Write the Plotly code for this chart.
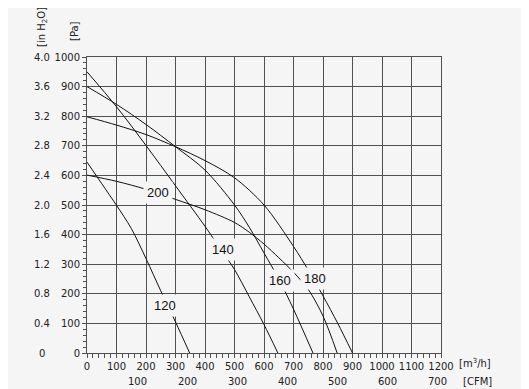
import plotly.graph_objects as go

# ---- data ----
flow_120 = [0, 50, 100, 150, 200, 250, 300, 348]
pres_120 = [645, 572, 499, 421, 319, 210, 105, 0]

flow_140 = [0, 100, 200, 300, 400, 450, 500, 550, 600, 647]
pres_140 = [950, 832, 701, 565, 428, 355, 282, 190, 96, 0]

flow_160 = [0, 100, 200, 300, 400, 500, 550, 600, 650, 700, 766]
pres_160 = [900, 840, 772, 697, 618, 500, 425, 338, 250, 148, 0]

flow_180 = [0, 100, 200, 300, 400, 500, 600, 700, 750, 800, 850, 900]
pres_180 = [798, 770, 738, 697, 650, 592, 500, 360, 280, 193, 100, 0]

flow_200 = [0, 100, 200, 300, 400, 500, 550, 600, 650, 700, 750, 800, 848]
pres_200 = [601, 580, 553, 519, 484, 441, 408, 368, 322, 273, 215, 125, 0]

curve_names = ["120", "140", "160", "180", "200"]
label_flow = [263, 460, 653, 772, 241]
label_pres = [161, 350, 246, 253, 542]

x_ticks = list(range(0, 1201, 100))
pa_ticks = list(range(0, 1001, 100))
h2o_ticks = [0, 0.4, 0.8, 1.2, 1.6, 2.0, 2.4, 2.8, 3.2, 3.6, 4.0]
h2o_text = ["0", "0.4", "0.8", "1.2", "1.6", "2.0", "2.4", "2.8", "3.2", "3.6", "4.0"]
cfm_ticks = [100, 200, 300, 400, 500, 600, 700]
M3H_PER_CFM = 1.69901

BG = "#f5f5f5"
GRID = "#505050"
TXT = "#222222"
TICKFONT = dict(family="DejaVu Sans", size=10, color=TXT)

fig = go.Figure()
curves = [(flow_120, pres_120), (flow_140, pres_140), (flow_160, pres_160),
          (flow_180, pres_180), (flow_200, pres_200)]
for name, (fx, py) in zip(curve_names, curves):
    fig.add_trace(go.Scatter(x=fx, y=py, mode="lines", name=name,
                             line=dict(color="#111111", width=1, shape="spline", smoothing=0.9),
                             showlegend=False, hoverinfo="skip"))

annotations = []
for name, lx, ly in zip(curve_names, label_flow, label_pres):
    annotations.append(dict(x=lx, y=ly, xref="x", yref="y", text=name, showarrow=False,
                            font=dict(family="Liberation Sans", size=13, color="#111111"),
                            bgcolor=BG, borderpad=3))

for v, t in zip(h2o_ticks, h2o_text):
    annotations.append(dict(x=0, y=v, xref="paper", yref="y2", text=t, showarrow=False,
                            xanchor="center", yanchor="middle", xshift=-45, font=TICKFONT))

for c in cfm_ticks:
    annotations.append(dict(x=c * M3H_PER_CFM, y=0, xref="x", yref="paper", text=str(c),
                            showarrow=False, xanchor="center", yanchor="middle", yshift=-28,
                            font=TICKFONT))

annotations += [
    dict(x=0, y=1, xref="paper", yref="paper", text="[in H<sub>2</sub>O]", textangle=-90,
         showarrow=False, xanchor="center", yanchor="bottom", xshift=-45, yshift=8, font=TICKFONT),
    dict(x=0, y=1, xref="paper", yref="paper", text="[Pa]", textangle=-90,
         showarrow=False, xanchor="center", yanchor="bottom", xshift=-13, yshift=14, font=TICKFONT),
    dict(x=1, y=0, xref="paper", yref="paper", text="[m<sup>3</sup>/h]", showarrow=False,
         xanchor="left", yanchor="middle", xshift=16, yshift=-10, font=TICKFONT),
    dict(x=1, y=0, xref="paper", yref="paper", text="[CFM]", showarrow=False,
         xanchor="left", yanchor="middle", xshift=20, yshift=-28, font=TICKFONT),
]

# the page places the figure 8px in from the top-left corner, so size/margins compensate
fig.update_layout(
    width=521, height=381,
    margin=dict(l=79, r=88, t=49, b=36, pad=0),
    paper_bgcolor=BG, plot_bgcolor=BG,
    xaxis=dict(range=[0, 1200], tickvals=x_ticks, showgrid=True, gridcolor=GRID, gridwidth=1,
               zeroline=False, showline=True, linecolor=GRID, linewidth=1, mirror=True,
               ticks="outside", ticklen=4, tickcolor=GRID, tickwidth=1, tickfont=TICKFONT,
               minor=dict(dtick=20, ticks="outside", ticklen=4, tickcolor=GRID, showgrid=False)),
    yaxis=dict(range=[0, 1000], tickvals=pa_ticks, showgrid=True, gridcolor=GRID, gridwidth=1,
               zeroline=False, showline=True, linecolor=GRID, linewidth=1, mirror=True,
               ticks="outside", ticklen=4, tickcolor=GRID, tickwidth=1, tickfont=TICKFONT,
               minor=dict(dtick=20, ticks="outside", ticklen=3, tickcolor=GRID, showgrid=False)),
    yaxis2=dict(range=[0, 4], overlaying="y", side="left", visible=False),
    annotations=annotations,
)

fig.write_html("out.html")
